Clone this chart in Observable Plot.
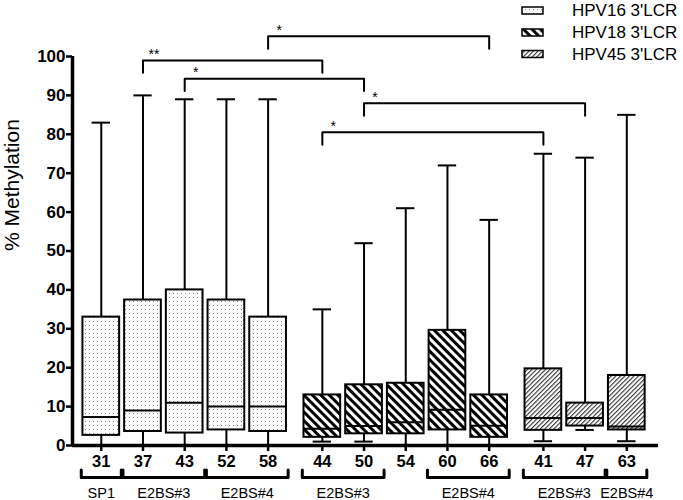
<!DOCTYPE html>
<html><head><meta charset="utf-8">
<script src="https://cdn.jsdelivr.net/npm/d3@7"></script>
<script src="https://cdn.jsdelivr.net/npm/@observablehq/plot@0.6"></script>
<style>body{margin:0;background:#fff}</style>
</head><body><div id="chart"></div>
<script>
// ---- data ----
const categories = ["31","37","43","52","58","44","50","54","60","66","41","47","63"];
const types = ["HPV16 3'LCR","HPV18 3'LCR","HPV45 3'LCR"];
const boxType = ["HPV16 3'LCR","HPV16 3'LCR","HPV16 3'LCR","HPV16 3'LCR","HPV16 3'LCR",
                 "HPV18 3'LCR","HPV18 3'LCR","HPV18 3'LCR","HPV18 3'LCR","HPV18 3'LCR",
                 "HPV45 3'LCR","HPV45 3'LCR","HPV45 3'LCR"];
const groups = ["SP1","E2BS#3","E2BS#3","E2BS#4","E2BS#4","E2BS#3","E2BS#3","","E2BS#4","E2BS#4","E2BS#3","E2BS#3","E2BS#4"];
const mins    = [0,   0,   0,   0,   0,   1,   1,   0,   0,   0,   1.1, 4,   1.1];
const q1s     = [2.6, 3.6, 3.2, 4,   3.6, 2.1, 3,   3,   4,   2.1, 3.9, 5,   4];
const medians = [7.3, 9,   11,  10,  10,  4.3, 5,   6,   9.2, 5.1, 7.1, 7.1, 4.9];
const q3s     = [33,  37.4,40,  37.4,33,  13,  15.6,16,  29.6,13,  19.7,10.9,18];
const maxs    = [83,  90,  89,  89,  89,  35,  52,  61,  72,  58,  75,  74,  85];
const yTicks = [0,10,20,30,40,50,60,70,80,90,100];
const yTitle = "% Methylation";
// significance comparisons
const sigFrom  = ["58","37","43","50","44"];
const sigTo    = ["66","44","50","47","41"];
const sigLevel = [105.2, 99, 94.3, 88, 80.5];
const sigText  = ["*","**","*","*","*"];

// ---- layout ----
const FONT = "'Liberation Sans', Arial, Helvetica, sans-serif";
const TYPE_GAP = 0.3, BOX = 0.44, CAP = 0.22, GROUP_HALF = 0.48, SIG_LEG = 3.2;
const GROUP_Y = -8.2, GROUP_LEG = 1.9;
const xDomain = [-0.69, 13.36];

const xPos = categories.map((c, i) => i + TYPE_GAP * types.indexOf(boxType[i]));
const posOf = new Map(categories.map((c, i) => [c, xPos[i]]));
const labelOf = new Map(xPos.map((p, i) => [p, categories[i]]));
const rows = categories.map((c, i) => ({cat: c, x: xPos[i], type: boxType[i],
  min: mins[i], q1: q1s[i], med: medians[i], q3: q3s[i], max: maxs[i]}));

// group runs
const runs = [];
groups.forEach((g, i) => {
  if (!g) return;
  const last = runs[runs.length - 1];
  if (last && last.label === g && last.end === i - 1 && boxType[last.start] === boxType[i]) last.end = i;
  else runs.push({label: g, start: i, end: i});
});
runs.forEach((r, k) => { r.id = k; r.a = xPos[r.start] - GROUP_HALF; r.b = xPos[r.end] + GROUP_HALF; r.center = (xPos[r.start] + xPos[r.end]) / 2; });
const groupPts = runs.flatMap(r => [
  {id: r.id, x: r.a, y: GROUP_Y + GROUP_LEG}, {id: r.id, x: r.a, y: GROUP_Y},
  {id: r.id, x: r.b, y: GROUP_Y}, {id: r.id, x: r.b, y: GROUP_Y + GROUP_LEG}]);

const sigs = sigFrom.map((f, k) => ({id: k, a: posOf.get(f), b: posOf.get(sigTo[k]), y: sigLevel[k], t: sigText[k]}));
const sigPts = sigs.flatMap(s => [
  {id: s.id, x: s.a, y: s.y - SIG_LEG}, {id: s.id, x: s.a, y: s.y},
  {id: s.id, x: s.b, y: s.y}, {id: s.id, x: s.b, y: s.y - SIG_LEG}]);

const patIds = ["pat-dots", "pat-bold", "pat-fine"];

const plot = Plot.plot({
  width: 683, height: 500,
  marginLeft: 72, marginRight: 25, marginTop: 56, marginBottom: 55,
  x: {domain: xDomain, axis: null},
  y: {domain: [0, 100], axis: null},
  style: {fontFamily: FONT, background: "white", color: "black", overflow: "visible"},
  marks: [
    Plot.ruleX(rows, {x: "x", y1: "min", y2: "max", stroke: "black", strokeWidth: 2}),
    Plot.ruleY(rows, {y: "max", x1: d => d.x - CAP, x2: d => d.x + CAP, stroke: "black", strokeWidth: 2}),
    Plot.ruleY(rows.filter(d => d.min > 0), {y: "min", x1: d => d.x - CAP, x2: d => d.x + CAP, stroke: "black", strokeWidth: 2}),
    ...types.map((t, k) => Plot.rect(rows.filter(d => d.type === t), {
      x1: d => d.x - BOX, x2: d => d.x + BOX, y1: "q1", y2: "q3",
      fill: `url(#${patIds[k]})`, stroke: "black", strokeWidth: 2})),
    Plot.ruleY(rows, {y: "med", x1: d => d.x - BOX, x2: d => d.x + BOX, stroke: "black", strokeWidth: 2}),
    // axes
    Plot.ruleY([0], {x1: xDomain[0], x2: xDomain[1], stroke: "black", strokeWidth: 3.5}),
    Plot.ruleX([xDomain[0]], {y1: 0, y2: 100, stroke: "black", strokeWidth: 3.5}),
    Plot.axisY({anchor: "left", ticks: yTicks, tickSize: 6, tickPadding: 1, strokeWidth: 2.5,
      fontSize: 17, fontWeight: "bold", label: null}),
    Plot.axisX({anchor: "bottom", ticks: xPos, tickFormat: d => labelOf.get(d), tickSize: 6, tickPadding: 4,
      strokeWidth: 2.5, fontSize: 16.5, fontWeight: "bold", label: null}),
    Plot.text([yTitle], {frameAnchor: "left", rotate: -90, dx: -60, fontSize: 21}),
    // group brackets
    Plot.line(groupPts, {x: "x", y: "y", z: "id", stroke: "black", strokeWidth: 3}),
    Plot.text(runs, {x: "center", y: 0, text: "label", dy: 48, fontSize: 14.5}),
    // significance brackets
    Plot.line(sigPts, {x: "x", y: "y", z: "id", stroke: "black", strokeWidth: 2}),
    Plot.text(sigs, {x: "a", y: "y", text: "t", dx: 11, dy: -6, fontSize: 14})
  ]
});

const svg = d3.select(plot);
const defs = svg.insert("defs", ":first-child");
const p0 = defs.append("pattern").attr("id", patIds[0]).attr("patternUnits", "userSpaceOnUse")
  .attr("width", 4).attr("height", 4);
p0.append("rect").attr("width", 4).attr("height", 4).attr("fill", "white");
p0.append("rect").attr("x", 1).attr("y", 1).attr("width", 1).attr("height", 1).attr("fill", "#8a8a8a");
const p1 = defs.append("pattern").attr("id", patIds[1]).attr("patternUnits", "userSpaceOnUse")
  .attr("width", 6).attr("height", 6).attr("patternTransform", "rotate(-45)");
p1.append("rect").attr("width", 6).attr("height", 6).attr("fill", "white");
p1.append("rect").attr("width", 3).attr("height", 6).attr("fill", "black");
const p2 = defs.append("pattern").attr("id", patIds[2]).attr("patternUnits", "userSpaceOnUse")
  .attr("width", 3.2).attr("height", 3.2).attr("patternTransform", "rotate(45)");
p2.append("rect").attr("width", 3.2).attr("height", 3.2).attr("fill", "white");
p2.append("rect").attr("width", 1.1).attr("height", 3.2).attr("fill", "#333");

// legend
const leg = svg.append("g").attr("font-family", FONT).attr("font-size", 17).attr("text-anchor", "start");
const legY = [10.5, 32.5, 54];
types.forEach((t, k) => {
  leg.append("rect").attr("x", 522).attr("y", legY[k] - 3.5).attr("width", 21).attr("height", 7)
    .attr("fill", `url(#${patIds[k]})`).attr("stroke", "black").attr("stroke-width", 1.5);
  leg.append("text").attr("x", 572).attr("y", legY[k]).attr("dy", "0.35em").attr("text-anchor", "start").text(t);
});

document.getElementById("chart").appendChild(plot);
</script></body></html>
